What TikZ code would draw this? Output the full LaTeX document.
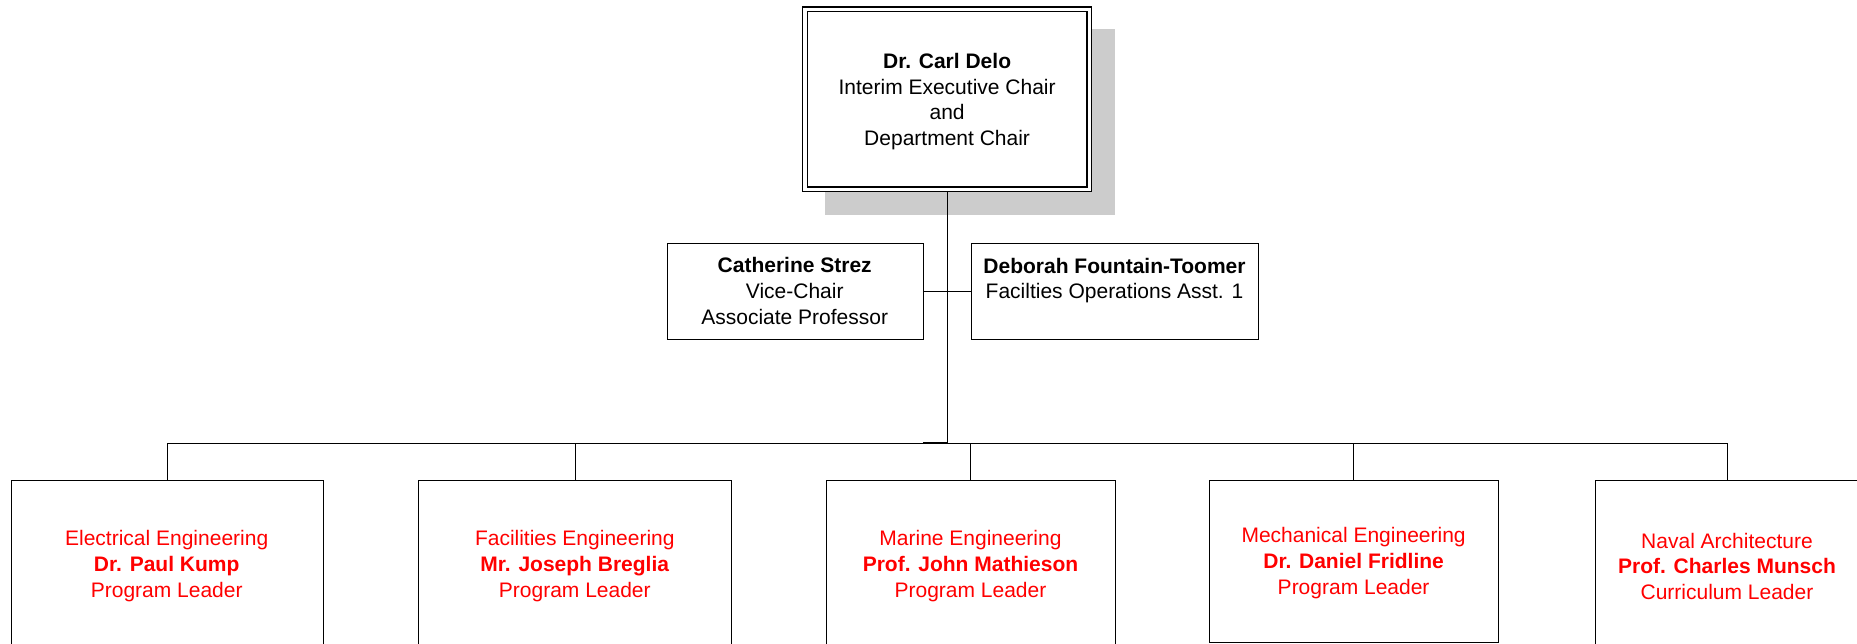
\documentclass[tikz,border=0pt]{standalone}
\usepackage{fontspec}
\setmainfont{Liberation Sans}
\usetikzlibrary{backgrounds}
\definecolor{shadowgray}{HTML}{CCCCCC}
\definecolor{unitred}{HTML}{FF0000}
\newcommand{\toppad}{\rule{0pt}{19.5pt}}
\begin{document}
\begin{tikzpicture}[x=1pt,y=-1pt,line width=1.4pt,
  every node/.style={font=\fontsize{21}{25.6}\selectfont, align=center, inner sep=0pt},
  chairbox/.style={draw, double, double distance=3.2pt, fill=white, outer sep=2.95pt,
    minimum width=284.2pt, minimum height=180pt},
  staffbox/.style={draw, fill=white, minimum height=96pt},
  unitbox/.style={draw, fill=white, text=unitred, minimum width=312pt, minimum height=168pt}]
\useasboundingbox (0,0) rectangle (1857,644);
\clip (0,0) rectangle (1857,644);

% top box with shadow
\node[chairbox] (top) at (947.1,99.35)
  {\toppad\textbf{Dr. Carl Delo}\\Interim Executive Chair\\and\\Department Chair};
\begin{pgfonlayer}{background}
\fill[shadowgray] ([shift={(23,23)}]top.north west) rectangle ([shift={(23,23)}]top.south east);
\end{pgfonlayer}

% staff boxes
\node[staffbox, minimum width=256pt] (cs) at (794.7,291)
  {\textbf{Catherine Strez}\\Vice-Chair\\Associate Professor};
\node[staffbox, minimum width=287.6pt] (df) at (1114.5,291)
  {\textbf{Deborah Fountain-Toomer}\\Facilties Operations Asst. 1\\\mbox{}};

% unit boxes
\node[unitbox] (ee) at (166.7,564)
  {\toppad Electrical Engineering\\\textbf{Dr. Paul Kump}\\Program Leader};
\node[unitbox, minimum width=312.4pt] (fe) at (574.8,564)
  {\toppad Facilities Engineering\\\textbf{Mr. Joseph Breglia}\\Program Leader};
\node[unitbox, minimum width=289pt] (mar) at (970.5,564)
  {\toppad Marine Engineering\\\textbf{Prof. John Mathieson}\\Program Leader};
\node[unitbox, minimum width=289pt, minimum height=162pt] (mech) at (1353.6,561)
  {\toppad Mechanical Engineering\\\textbf{Dr. Daniel Fridline}\\Program Leader};
\node[unitbox, minimum width=264pt] (na) at (1727,564)
  {\toppad Naval Architecture\\\textbf{Prof. Charles Munsch}\\Curriculum Leader};

% connectors
\coordinate (bus) at (947.1,443.3);
\draw (top.south) -- (bus);
\draw (cs.east) -- (df.west);
\draw (ee.north) |- (bus) -| (na.north);
\draw[line width=2.2pt] (cs.east |- bus) -- (bus);
\draw (fe.north) -- (fe.north |- bus);
\draw (mar.north) -- (mar.north |- bus);
\draw (mech.north) -- (mech.north |- bus);
\end{tikzpicture}
\end{document}
